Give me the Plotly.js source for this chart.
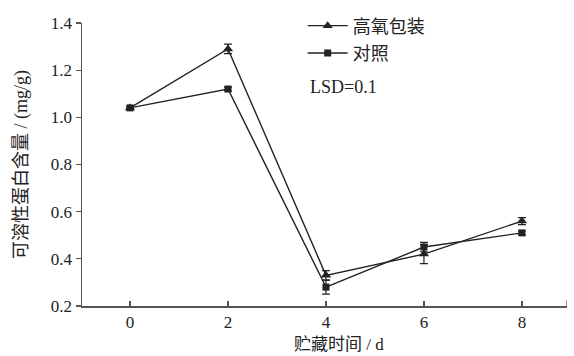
<!DOCTYPE html>
<html>
<head>
<meta charset="utf-8">
<script src="https://cdn.plot.ly/plotly-3.0.1.min.js"></script>
<style>
  html, body { margin: 0; padding: 0; background: #fff; }
  #chart { width: 574px; height: 356px; }
</style>
</head>
<body>
<div id="chart"></div>
<script>
// Storage time (days)
const days = [0, 2, 4, 6, 8];

// Soluble protein content (mg/g)
const highOxygen = [1.04, 1.29, 0.33, 0.42, 0.56];
const highOxygenErr = [0.005, 0.02, 0.02, 0.04, 0.015];
const control = [1.04, 1.12, 0.28, 0.45, 0.51];
const controlErr = [0.005, 0.008, 0.03, 0.02, 0.008];

const seriesNames = ['高氧包装', '对照'];
const yTicks = [0.2, 0.4, 0.6, 0.8, 1.0, 1.2, 1.4];
const yTickText = ['0.2', '0.4', '0.6', '0.8', '1.0', '1.2', '1.4'];
const xTicks = [0, 2, 4, 6, 8];

const FONT = 'Liberation Serif, "Times New Roman", "Noto Sans CJK SC", serif';
const INK = '#222';
const AXIS = '#555';

const traces = [
  {
    x: days, y: highOxygen, name: seriesNames[0], legendgroup: 'o2',
    type: 'scatter', mode: 'lines+markers',
    line: { color: INK, width: 1.4 },
    marker: { symbol: 'triangle-up', size: 9, color: INK },
    error_y: { type: 'data', array: highOxygenErr, visible: true, color: INK, thickness: 1.2, width: 4 }
  },
  {
    x: days, y: control, name: seriesNames[1], legendgroup: 'ck',
    type: 'scatter', mode: 'lines+markers',
    line: { color: INK, width: 1.4 },
    marker: { symbol: 'square', size: 7, color: INK },
    error_y: { type: 'data', array: controlErr, visible: true, color: INK, thickness: 1.2, width: 4 }
  }
];

const layout = {
  width: 574, height: 356,
  margin: { l: 82, r: 7, t: 19, b: 50 },
  paper_bgcolor: '#fff', plot_bgcolor: '#fff',
  font: { family: FONT, color: INK, size: 17 },
  showlegend: true,
  legend: {
    x: 0.455, y: 1.055, xanchor: 'left', yanchor: 'top',
    bgcolor: 'rgba(0,0,0,0)', font: { family: FONT, size: 18, color: INK },
    tracegroupgap: 1, itemwidth: 40
  },
  xaxis: {
    range: [-0.98, 8.92],
    tickvals: xTicks,
    ticks: 'inside', ticklen: 5, tickwidth: 1.2, tickcolor: AXIS,
    showline: true, linecolor: AXIS, linewidth: 1.5,
    showgrid: false, zeroline: false,
    tickfont: { family: FONT, size: 17, color: INK }
  },
  yaxis: {
    range: [0.2, 1.4],
    tickvals: yTicks, ticktext: yTickText,
    ticks: 'outside', ticklen: 5, tickwidth: 1.2, tickcolor: AXIS,
    showline: true, linecolor: AXIS, linewidth: 1.5,
    showgrid: false, zeroline: false,
    tickfont: { family: FONT, size: 17, color: INK },
    title: { text: '可溶性蛋白含量 / (mg/g)', font: { family: FONT, size: 18, color: INK }, standoff: 18 }
  },
  shapes: [
    // small end mark at the right end of the x axis
    { type: 'line', xref: 'x', yref: 'paper', x0: 8.92, x1: 8.92, y0: 0, y1: 0.02,
      line: { color: AXIS, width: 1.2 } }
  ],
  annotations: [
    { xref: 'paper', yref: 'paper', x: 0.465, y: 0.775, xanchor: 'left', yanchor: 'middle',
      text: 'LSD=0.1', showarrow: false, font: { family: FONT, size: 18, color: INK } },
    // x-axis title, set slightly right of centre, sitting at the bottom edge
    { xref: 'paper', yref: 'paper', x: 0.53, y: 0, xanchor: 'center', yanchor: 'bottom', yshift: -50,
      text: '贮藏时间 / d', showarrow: false, font: { family: FONT, size: 17, color: INK } }
  ]
};

Plotly.newPlot('chart', traces, layout, { displayModeBar: false, staticPlot: true });
</script>
</body>
</html>
